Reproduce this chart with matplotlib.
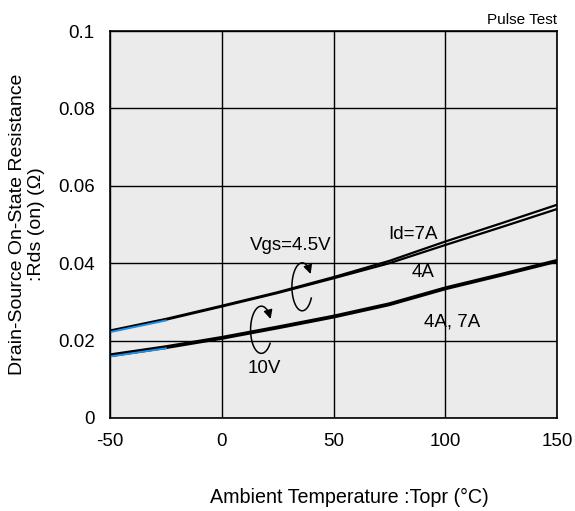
import numpy as np
import matplotlib.pyplot as plt
from matplotlib.patches import FancyArrowPatch

plt.rcParams['font.family'] = ['Liberation Sans', 'DejaVu Sans']
plt.rcParams['axes.unicode_minus'] = False

# Ambient temperature (°C)
temps = [-50, -25, 0, 25, 50, 75, 100, 125, 150]
# Vgs = 4.5V
rds_45v_7a = [0.0226, 0.0256, 0.0290, 0.0325, 0.0364, 0.0406, 0.0456, 0.0503, 0.0551]
rds_45v_4a = [0.0224, 0.0254, 0.0288, 0.0323, 0.0361, 0.0400, 0.0447, 0.0493, 0.0540]
# Vgs = 10V (4A and 7A overlap)
rds_10v = [0.0162, 0.0183, 0.0207, 0.0234, 0.0262, 0.0294, 0.0335, 0.0370, 0.0406]
# short blue stubs at the start of the curves
temps_blue = [-50, -25]
rds_45v_blue = [0.0222, 0.0252]
rds_10v_blue = [0.0159, 0.0180]

fig = plt.figure(figsize=(5.75, 5.11), dpi=100)
ax = fig.add_axes([0.1913, 0.182, 0.7774, 0.7573])
ax.set_facecolor('#ebebeb')

ax.plot(temps, rds_45v_7a, color='black', lw=1.6)
ax.plot(temps, rds_45v_4a, color='black', lw=1.6)
ax.plot(temps, rds_10v, color='black', lw=2.8)
ax.plot(temps_blue, rds_45v_blue, color='#1e90e8', lw=1.4)
ax.plot(temps_blue, rds_10v_blue, color='#1e90e8', lw=1.4)

ax.set_xlim(-50, 150)
ax.set_ylim(0, 0.1)
ax.set_xticks([-50, 0, 50, 100, 150])
ax.set_yticks([0, 0.02, 0.04, 0.06, 0.08, 0.1])
ax.set_yticklabels(['0', '0.02', '0.04', '0.06', '0.08', '0.1'])
ax.grid(True, color='black', lw=1.0)
ax.set_axisbelow(True)
ax.tick_params(length=0, labelsize=13.5, pad=11)
for s in ax.spines.values():
    s.set_linewidth(1.2)

ax.set_xlabel('Ambient Temperature :Topr (°C)', fontsize=14.2)
ax.xaxis.set_label_coords(0.535, -0.181)
ax.set_ylabel('Drain-Source On-State Resistance\n:Rds (on) (Ω)', fontsize=14, labelpad=9)


# curved arrows around the curves
def curl(cx, cy, rx, ry, a0, a1):
    t = np.radians(np.linspace(a0, a1, 60))
    xs = cx + rx * np.cos(t)
    ys = cy + ry * np.sin(t)
    ax.plot(xs[:-4], ys[:-4], color='black', lw=1.1)
    ax.add_patch(FancyArrowPatch((xs[-6], ys[-6]), (xs[-1], ys[-1]),
                                 arrowstyle='-|>', mutation_scale=13,
                                 color='black', lw=1.1))


curl(36.0, 0.0339, 4.6, 0.0062, -28, -335)
curl(17.7, 0.0228, 4.8, 0.0061, -35, -340)

ax.text(31, 0.0445, 'Vgs=4.5V', fontsize=13.5, ha='center', va='center')
ax.text(19, 0.0129, '10V', fontsize=13.5, ha='center', va='center')
ax.text(85.5, 0.0475, 'Id=7A', fontsize=13.5, ha='center', va='center')
ax.text(90, 0.0377, '4A', fontsize=13.5, ha='center', va='center')
ax.text(103, 0.0248, '4A, 7A', fontsize=13.5, ha='center', va='center')
ax.text(1.0, 1.01, 'Pulse Test', transform=ax.transAxes, fontsize=11,
        ha='right', va='bottom')

fig.savefig('out.png', dpi=100)
